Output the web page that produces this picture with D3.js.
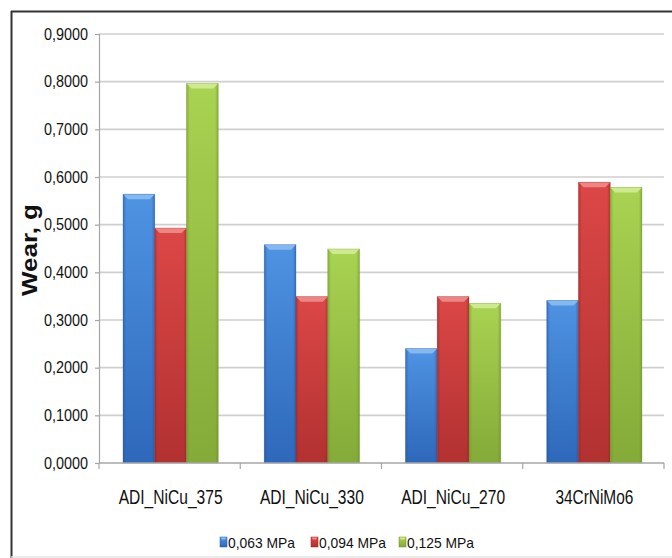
<!DOCTYPE html>
<html>
<head>
<meta charset="utf-8">
<script src="https://cdn.jsdelivr.net/npm/d3@7/dist/d3.min.js"></script>
<style>
  html, body { margin: 0; padding: 0; background: #fff; }
  svg { display: block; }
  text { font-family: "Liberation Sans", Arial, sans-serif; fill: #111; }
</style>
</head>
<body>
<svg id="chart" width="672" height="558"></svg>
<script>
// Wear of the samples under three contact pressures
const categories = ["ADI_NiCu_375", "ADI_NiCu_330", "ADI_NiCu_270", "34CrNiMo6"];
const seriesNames = ["0,063 MPa", "0,094 MPa", "0,125 MPa"];
const wear063 = [0.564, 0.458, 0.240, 0.341];
const wear094 = [0.493, 0.349, 0.349, 0.589];
const wear125 = [0.796, 0.449, 0.335, 0.578];
const yTicks = [0, 0.1, 0.2, 0.3, 0.4, 0.5, 0.6, 0.7, 0.8, 0.9];

const seriesValues = [wear063, wear094, wear125];
const palette = [
  { top: "#4f93e3", bottom: "#2e68ba", bevel: "#8cbcf2", edge: "#24569e" },
  { top: "#dc4747", bottom: "#b23131", bevel: "#f08c8c", edge: "#952626" },
  { top: "#a9d352", bottom: "#84aa38", bevel: "#d2ec95", edge: "#6d8f2a" }
];

const svg = d3.select("#chart");

// outer frame
svg.append("line").attr("x1", 11).attr("x2", 672).attr("y1", 11.5).attr("y2", 11.5)
  .attr("stroke", "#333").attr("stroke-width", 2);
svg.append("line").attr("x1", 11.5).attr("x2", 11.5).attr("y1", 11).attr("y2", 558)
  .attr("stroke", "#333").attr("stroke-width", 2);
svg.append("line").attr("x1", 11).attr("x2", 672).attr("y1", 557).attr("y2", 557)
  .attr("stroke", "#e4e4e4").attr("stroke-width", 1.5);

const x0 = d3.scaleBand().domain(categories).range([99, 664]).paddingInner(0).paddingOuter(0);
const x1 = d3.scaleBand().domain(seriesNames).range([24, x0.bandwidth() - 22]).padding(0);
const y = d3.scaleLinear().domain([0, 0.9]).range([463, 34]);

const fmt = v => d3.format(".4f")(v).replace(".", ",");

// gradients
const defs = svg.append("defs");
palette.forEach((p, i) => {
  const g = defs.append("linearGradient").attr("id", "fill" + i)
    .attr("x1", 0).attr("y1", 0).attr("x2", 0).attr("y2", 1);
  g.append("stop").attr("offset", "0%").attr("stop-color", p.top);
  g.append("stop").attr("offset", "100%").attr("stop-color", p.bottom);
  const s = defs.append("linearGradient").attr("id", "side" + i)
    .attr("x1", 0).attr("y1", 0).attr("x2", 1).attr("y2", 0);
  s.append("stop").attr("offset", "0%").attr("stop-color", p.edge).attr("stop-opacity", 0.55);
  s.append("stop").attr("offset", "10%").attr("stop-color", p.edge).attr("stop-opacity", 0);
  s.append("stop").attr("offset", "90%").attr("stop-color", p.edge).attr("stop-opacity", 0);
  s.append("stop").attr("offset", "100%").attr("stop-color", p.edge).attr("stop-opacity", 0.55);
});

// gridlines
svg.append("g").selectAll("line").data(yTicks.filter(d => d > 0)).join("line")
  .attr("x1", 99).attr("x2", 664)
  .attr("y1", d => y(d)).attr("y2", d => y(d))
  .attr("stroke", "#cfcfcf").attr("stroke-width", 1.6);

// y axis
const yAxis = svg.append("g").attr("transform", "translate(99,0)")
  .call(d3.axisLeft(y).tickValues(yTicks).tickFormat(fmt).tickSize(4).tickPadding(7));
yAxis.select(".domain").attr("stroke", "#a6a6a6").attr("stroke-width", 1.2);
yAxis.selectAll(".tick line").attr("stroke", "#a6a6a6").attr("stroke-width", 1.2);
yAxis.selectAll(".tick text")
  .style("font-family", "'Liberation Sans', Arial, sans-serif")
  .attr("font-size", 16).attr("fill", "#222")
  .attr("textLength", 44).attr("lengthAdjust", "spacingAndGlyphs");

// bars
const groups = svg.append("g").selectAll("g").data(categories).join("g")
  .attr("transform", d => `translate(${x0(d)},0)`);

groups.each(function (cat, ci) {
  const g = d3.select(this);
  seriesNames.forEach((s, si) => {
    const v = seriesValues[si][ci];
    const bx = x1(s), bw = x1.bandwidth(), by = y(v), bh = y(0) - y(v);
    const p = palette[si];
    g.append("rect").attr("x", bx).attr("y", by).attr("width", bw).attr("height", bh)
      .attr("fill", `url(#fill${si})`);
    g.append("rect").attr("x", bx).attr("y", by).attr("width", bw).attr("height", bh)
      .attr("fill", `url(#side${si})`);
    // bevelled top edge
    const bev = 5;
    g.append("polygon")
      .attr("points", [[bx, by], [bx + bw, by], [bx + bw - bev, by + bev], [bx + bev, by + bev]].map(q => q.join(",")).join(" "))
      .attr("fill", p.bevel).attr("opacity", 0.9);
    g.append("rect").attr("x", bx).attr("y", by).attr("width", bw).attr("height", bh)
      .attr("fill", "none").attr("stroke", p.edge).attr("stroke-opacity", 0.35).attr("stroke-width", 0.8);
  });
});

// x axis
const xAxis = svg.append("g").attr("transform", "translate(0,463)");
xAxis.append("line").attr("x1", 99).attr("x2", 664).attr("y1", 0).attr("y2", 0)
  .attr("stroke", "#a6a6a6").attr("stroke-width", 1.4);
const boundaries = categories.map(c => x0(c)).concat([x0(categories[categories.length - 1]) + x0.bandwidth()]);
xAxis.selectAll("line.tk").data(boundaries).join("line").attr("class", "tk")
  .attr("x1", d => d).attr("x2", d => d).attr("y1", 0).attr("y2", 6)
  .attr("stroke", "#a6a6a6").attr("stroke-width", 1.2);
xAxis.selectAll("text").data(categories).join("text")
  .attr("x", d => x0(d) + x0.bandwidth() / 2 + 1)
  .attr("y", 41)
  .attr("text-anchor", "middle")
  .attr("font-size", 20).attr("fill", "#111")
  .attr("textLength", (d, i) => i === 3 ? 78 : 104).attr("lengthAdjust", "spacingAndGlyphs")
  .text(d => d);

// y axis title
svg.append("text")
  .attr("transform", "translate(37,250) rotate(-90)")
  .attr("text-anchor", "middle")
  .attr("font-size", 22).attr("font-weight", "bold").attr("fill", "#111")
  .attr("textLength", 92).attr("lengthAdjust", "spacingAndGlyphs")
  .text("Wear, g");

// legend
const legendX = [220, 311, 399];
const legend = svg.append("g").selectAll("g").data(seriesNames).join("g")
  .attr("transform", (d, i) => `translate(${legendX[i]},542)`);
legend.append("rect").attr("x", 0).attr("y", -5).attr("width", 7).attr("height", 10)
  .attr("fill", (d, i) => `url(#fill${i})`).attr("stroke", (d, i) => palette[i].edge).attr("stroke-width", 0.5);
legend.append("polygon").attr("points", "0.5,-4.5 6.5,-4.5 5,-2.5 2,-2.5")
  .attr("fill", (d, i) => palette[i].bevel);
legend.append("text").attr("x", 8).attr("y", 5.5)
  .attr("font-size", 15).attr("fill", "#222")
  .style("font-family", "'Liberation Sans Narrow', 'Liberation Sans', Arial, sans-serif")
  .attr("textLength", 67).attr("lengthAdjust", "spacingAndGlyphs")
  .text(d => d);
</script>
</body>
</html>
